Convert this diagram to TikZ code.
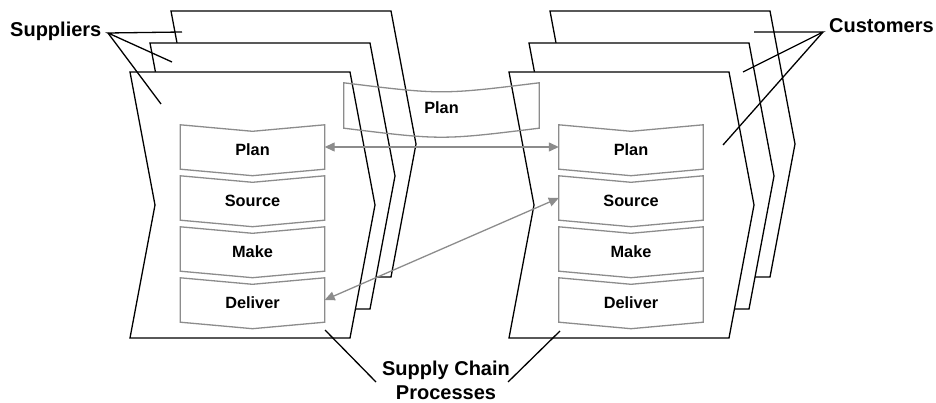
\documentclass[tikz,border=0pt]{standalone}
\usepackage{fontspec}
\setmainfont{Liberation Sans}
\usetikzlibrary{arrows.meta,calc}
\definecolor{boxgray}{RGB}{140,140,140}
\tikzset{
  page/.style={draw=black, line width=1.3pt, fill=white, line join=miter},
  procbox/.style={minimum width=144pt, minimum height=44pt, inner sep=0pt,
    text height=17pt, text depth=0pt, font=\fontsize{16.3}{19}\selectfont\bfseries},
  chev/.style={draw=boxgray, line width=1.3pt},
  flow/.style={draw=boxgray, line width=1.3pt,
    {Triangle[length=10pt,width=9pt]}-{Triangle[length=10pt,width=9pt]}},
  lead/.style={draw=black, line width=1.3pt},
  biglabel/.style={font=\fontsize{20}{24}\selectfont\bfseries, inner sep=0pt},
}
\newcommand\stackpage[2]{%
  \draw[page] (#1,#2) -- ++(220,0) -- ++(25,133) -- ++(-25,133) -- ++(-220,0) -- ++(25,-133) -- cycle;}
\newcommand\chevron[1]{%
  \draw[chev] (#1.north west) -- ($(#1.north)+(0,6.5)$) -- (#1.north east) -- (#1.south east)
    -- ($(#1.south)+(0,6.5)$) -- (#1.south west) -- cycle;}
\begin{document}
\begin{tikzpicture}[x=1pt,y=-1pt]
\useasboundingbox (0,0) rectangle (936,403);
% left stack (suppliers)
\stackpage{171}{11}
\stackpage{150}{43}
\stackpage{130}{72}
% right stack (customers)
\stackpage{550}{11}
\stackpage{529}{43}
\stackpage{509}{72}
% process boxes left
\node[procbox] (Lplan) at (252.5,147) {Plan};
\node[procbox] (Lsource) at (252.5,198) {Source};
\node[procbox] (Lmake) at (252.5,249) {Make};
\node[procbox] (Ldeliver) at (252.5,300) {Deliver};
% process boxes right
\node[procbox] (Rplan) at (631,147) {Plan};
\node[procbox] (Rsource) at (631,198) {Source};
\node[procbox] (Rmake) at (631,249) {Make};
\node[procbox] (Rdeliver) at (631,300) {Deliver};
\chevron{Lplan}\chevron{Lsource}\chevron{Lmake}\chevron{Ldeliver}
\chevron{Rplan}\chevron{Rsource}\chevron{Rmake}\chevron{Rdeliver}
% shared plan
\node[procbox, minimum width=195pt, minimum height=45pt] (Tplan) at (441.5,105.5) {Plan};
\draw[chev] (Tplan.north west) .. controls ($(Tplan.north)+(0,12)$) .. (Tplan.north east)
  -- (Tplan.south east) .. controls ($(Tplan.south)+(0,12)$) .. (Tplan.south west) -- cycle;
% flows
\draw[flow] (Lplan.east) -- (Rplan.west);
\draw[flow] (Ldeliver.east) -- (Rsource.west);
% labels
\node[biglabel, anchor=base west] (suppliers) at (10,37) {Suppliers};
\node[biglabel, anchor=base west] (customers) at (829,33) {Customers};
\node[biglabel, align=center, anchor=south] (scp) at (446,399.5) {Supply Chain\\Processes};
% leader lines
\coordinate (supfrom) at (108,33);
\coordinate (sup1) at (182,32);
\coordinate (sup2) at (172,62);
\coordinate (sup3) at (161,104);
\draw[lead] (sup1) -- (supfrom) -- (sup2);
\draw[lead] (supfrom) -- (sup3);
\coordinate (cusfrom) at (823,32);
\coordinate (cus1) at (754,32);
\coordinate (cus2) at (743,72);
\coordinate (cus3) at (723,145);
\draw[lead] (cus1) -- (cusfrom) -- (cus2);
\draw[lead] (cusfrom) -- (cus3);
\coordinate (scl) at (376,382);
\coordinate (scl2) at (325,330);
\coordinate (scr) at (508,382);
\coordinate (scr2) at (560,331);
\draw[lead] (scl) -- (scl2);
\draw[lead] (scr) -- (scr2);
\end{tikzpicture}
\end{document}
